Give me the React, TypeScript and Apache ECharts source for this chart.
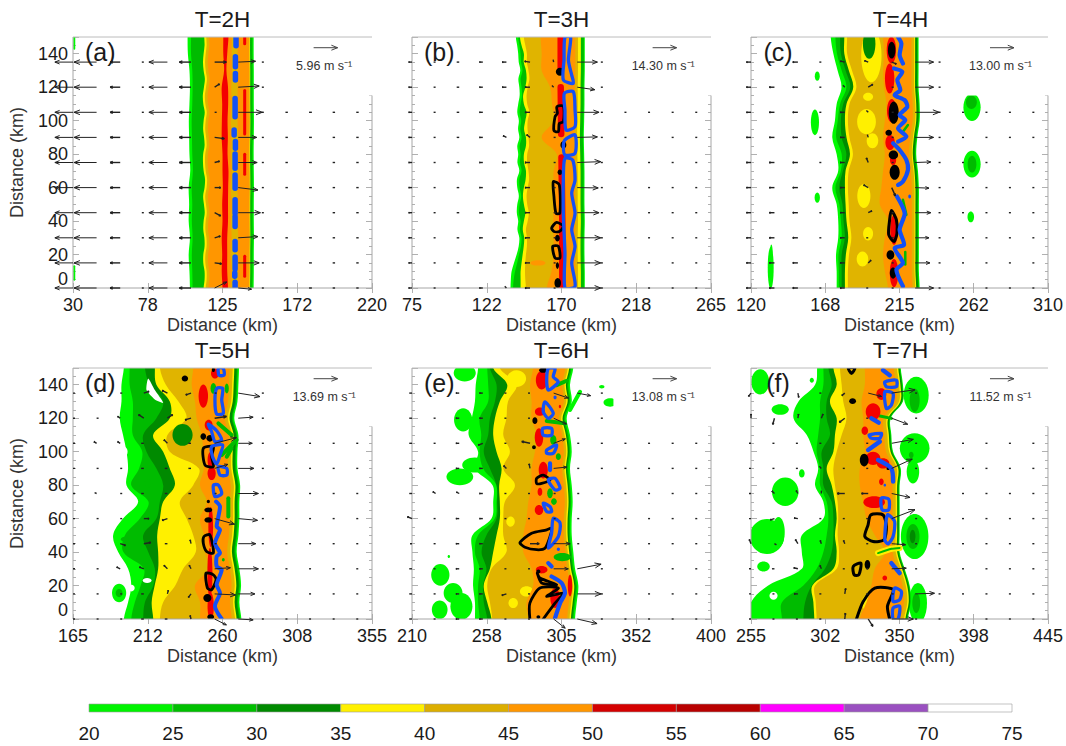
import React, { useEffect, useRef } from "react";
import * as echarts from "echarts";

// ---- palette ----
const G1 = "#00f800", G2 = "#00bb00", G3 = "#008a00", Y = "#fff000", GD = "#e0b400", O = "#ff9600", R = "#f40000", BL = "#1450f5", K = "#000000", W = "#ffffff";

// ---- colour bar ----
const barLevels = [20, 25, 30, 35, 40, 45, 50, 55, 60, 65, 70, 75];
const barColors = ["#00f400", "#00c000", "#008a00", "#fff000", "#dcae00", "#ff9600", "#d40000", "#b80000", "#ff00ff", "#9a50c0", "#ffffff"];

// ---- rows of the arrows (km); edge lists hold one value per 10 km, or per 5 km if they have 31 values ----
const arrowRows = [0, 15, 30, 45, 60, 75, 90, 105, 120, 135];

// ---- panel (a): edges, km from the panel's left end ----
const aL20 = [74.3, 74, 73.5, 74.3, 73.5, 73.8, 73.5, 74.5, 74, 73.8, 73.6, 74, 74.3, 74, 73, 72.8];
const aL25 = [76, 75.8, 75.5, 76, 75.5, 75.8, 75.4, 76.2, 75.8, 75.6, 75.4, 75.8, 76, 75.8, 75, 75];
const aL35 = [83, 83.6, 83.6, 82.8, 82.8, 83.6, 83.5, 82.8, 83, 83.7, 83.2, 82.7, 83.6, 83.9, 83, 82.6, 82.7, 83.6, 83.3, 82.7, 83, 83.7, 82.8, 82.5, 83.2, 83.8, 83, 82.6, 83, 83.6, 83.4];
const aL40 = [84.3, 84.9, 84.9, 84.1, 84.1, 84.9, 84.8, 84.1, 84.3, 85, 84.5, 84, 84.9, 85.2, 84.3, 83.9, 84, 84.9, 84.6, 84, 84.3, 85, 84.1, 83.8, 84.5, 85.1, 84.3, 83.9, 84.3, 84.9, 84.7];
const aL45 = [86, 86.6, 86.6, 85.8, 85.8, 86.6, 86.5, 85.8, 86, 86.7, 86.2, 85.7, 86.6, 86.9, 86, 85.6, 85.7, 86.6, 86.3, 85.7, 86, 86.7, 85.8, 85.5, 86.2, 86.8, 86, 85.6, 86, 86.6, 86.4];
const aGoldL = [100.4, 100.8, 100.2, 100.8, 100.4, 100.8, 100.3, 100.7, 100.4, 100.8, 100.3, 100.8, 100.6, 101, 100.8, 101];
const aGoldR = [104.6, 105, 104.6, 105, 104.6, 104.8, 104.6, 105, 104.6, 105, 104.6, 104.8, 104.6, 105, 104.6, 104.8];
const aRedL = [95, 94.5, 94.8, 94.5, 95, 94.8, 95.2, 95, 95, 94.5, 94.6, 94.8, 94.5, 96, 95.5, 95.5];
const aRedR = [98.5, 98, 98, 98, 98.5, 98.5, 98.6, 98.8, 98.2, 98.4, 98.2, 98.6, 98.5, 97.5, 98, 98.8];
const aR = [114.8, 114.9, 114.9, 115, 114.9, 114.9, 115, 114.9, 114.8, 114.9, 115, 114.9, 114.9, 114.9, 114.8, 114.8];
const aBlue = [[103, 0, 3.4], [102.8, 7, 8.9], [103, 11.3, 18.5], [103, 22.9, 27.8], [103, 36.8, 42.7], [103, 44.7, 52.7], [103, 59.6, 67.6], [103, 71.6, 80.1], [103.2, 83.5, 87.5], [102.4, 91.5, 94.4], [103, 102.4, 113.3], [103.2, 124.3, 128.2], [103.2, 132.2, 138.2], [103.6, 144.7, 150]];
const aRedStreak = [[109.1, 7, 19], [109.1, 68, 80], [109.1, 92, 118], [109.1, 146, 150]];
const aGreenBits = [[0.8, 143, 150], [0.8, 5, 13]];
const aBaseU = [-4.5, -5.6, -2.5, -0.3, -4.6, -2.9, 2.9, 4.3, 0.2, 0.6, 0.7, 0.6, 0.6];
const aArrows = [[6, 120, 1.2, 0.8], [7, 120, 5.2, 0.3], [6, 105, 0.5, 0], [7, 105, 5.96, 0], [6, 90, 2.4, -0.3], [7, 90, 4.6, 0], [6, 75, 1.2, 0.3], [7, 75, 4.7, 0], [6, 60, 1.5, 0], [7, 60, 4.9, -0.6], [6, 45, 1.5, -0.8], [7, 45, 5.5, 0], [6, 30, 1.4, 0.4], [7, 30, 4.9, 0.3], [6, 15, 1.7, -0.2], [7, 15, 5.2, 0], [6, 0, 3, 1.5], [7, 0, 3.3, -0.3], [7, 135, 4.3, 0.2]];

// ---- panel (b) ----
const bL20 = [62.6, 62.8, 63.3, 64.8, 66.5, 67.8, 68.2, 67, 67.5, 66.6, 66.9, 67.9, 66.9, 66.7, 68.2, 67, 67.5, 66.9, 68.2, 67.4, 67.9, 66.9, 67.5, 68.4, 68.2, 67.6, 68.8, 67.8, 67.5, 66.8, 66];
const bL25 = [64.2, 64.6, 65.5, 66.8, 68, 69.2, 69.6, 68.6, 69, 68, 68.4, 69.4, 68.4, 68.2, 69.6, 68.6, 69, 68.4, 69.6, 68.8, 69.4, 68.4, 69, 69.9, 69.6, 69, 70.2, 69.3, 69, 68.3, 67.5];
const bL35 = [69, 69, 69, 69.6, 70.3, 71, 71.3, 70.4, 71.1, 72, 71.1, 70.5, 71.1, 72.2, 72.4, 71.2, 71.1, 72.4, 72.4, 71.2, 72, 72.8, 71.1, 70.6, 72, 72.8, 72.4, 71, 71.1, 69.6, 68.6];
const bL40 = [72.4, 72, 71.8, 72, 72.4, 73, 73, 72.4, 73.5, 74.2, 73.2, 72.8, 73.5, 74.4, 74, 73.2, 73.2, 74.4, 74, 73.4, 73.5, 74.6, 73.2, 72.8, 73.5, 74.6, 74, 73, 73, 72, 71.1];
const bL45 = [85.6, 88.7, 90, 90, 89.8, 90, 90, 90, 92, 82.4, 90, 89, 87.7, 82.4, 82.4, 81.7];
const bR = [109.8, 109.8, 109.6, 109.6, 109.8, 109.6, 109.6, 109.6, 109.4, 109.2, 109.4, 109.6, 109.6, 109.8, 109.8, 109.8];
const bRed = [[[94.5, 150], [94.5, 131.5]], [[94.5, 120], [94.8, 92]], [[95, 78], [95.5, 40], [95.5, 0]]];
const bBlue = [
  [[97.2, 150], [96.6, 136.2], [96.2, 124.3], [102.5, 122.3], [101.5, 127.2], [99.4, 136.2], [100.8, 150]],
  [[96.8, 116.3], [102.5, 117.3], [103.6, 106.4], [103.6, 96.4], [97.9, 94.4], [97.2, 106.4]],
  [[97.2, 88.5], [103.6, 91.5], [103.6, 80.5], [97.2, 79.5], [96.2, 84.5]],
  [[97.2, 77.5], [102.1, 76.5], [103.6, 64.6], [101.5, 56.7], [103.6, 44.7], [101.5, 34.8], [103.6, 24.9], [101.5, 14.9], [103.6, 1], [97.2, 0], [97.2, 20.9], [96.2, 42.7], [96.2, 66.6]],
];
const bBlack = [
  [[92, 108.3], [96.2, 108.7], [96.2, 99.4], [93.6, 98.4], [93, 93.4], [90.2, 94], [90.9, 102.4], [92.4, 104.4]],
  [[89.8, 63.6], [93.6, 61.6], [94, 44.7], [91.5, 44.7], [90.2, 54.7]],
  [[88.7, 35.8], [91.9, 39.2], [96.2, 36.8], [93.6, 33.8], [90.2, 33.8]],
  [[89.4, 24.9], [93, 24.9], [94, 17.9], [90.9, 17.9]],
];
const bDots = [[94, 129.2, 2.6, 2.4], [96.2, 85.5, 1.9, 2.2], [94, 69.2, 1.5, 1.6], [92.6, 3, 2.1, 3], [92.4, 29.8, 1.5, 2], [92.4, 13.4, 1, 2]];
const bPatches = [[80, 15, 4.8, 1.6]];
const bBaseU = [-2, -1, -1.5, -2, -2.5, -3, 0.3, 12, 0.6, 0.6, 0.6, 0.6, 0.6];
const bArrows = [[7, 120, 10.5, -1.5], [7, 105, 13, 0], [7, 90, 12, 0.3], [7, 75, 14, 0.5], [7, 60, 12.5, -0.2], [7, 45, 13, 0], [7, 30, 14, 0], [7, 15, 14, 0], [7, 0, 14, 0], [6, 135, -0.3, 1.5], [5, 135, -3.2, 0.4], [5, 90, -2, 1.6], [6, 120, -1, 1], [4, 90, -2, 1], [4, 0, -1, 1]];

// ---- panel (c) ----
const cL20 = [54.8, 54.8, 54.4, 55.8, 55.8, 54.8, 52, 55.8, 54.8, 52, 53.7, 54.8, 57.9, 55.4, 52.7, 51];
const cL25 = [56.2, 56.2, 56, 58, 57.5, 56.5, 54, 57.5, 58, 54.5, 55.5, 57, 61, 58, 55, 54];
const cL30 = [58, 58, 58, 60, 59.2, 58.5, 56.5, 58.8, 61, 58, 57.5, 59, 63.5, 60.5, 57.5, 57];
const cL35 = [60.1, 60.1, 60.7, 62.2, 61.1, 60.5, 60.1, 60.5, 63.3, 61.1, 60.1, 61.1, 65.4, 62.6, 59.7, 59.7];
const cL40 = [62, 62, 62.7, 64.2, 63, 62.5, 62, 62.5, 65.2, 63, 62, 63, 67.4, 64.6, 61.5, 61.5];
const cL45 = [87.7, 85.6, 84.5, 85.6, 87.7, 82.4, 83.4, 84.5, 85.6, 84.5, 85.6, 86.6, 85.1, 84.5, 85.1, 84.5];
const cR = [107.9, 107.4, 107.4, 107.4, 107.4, 107.4, 107.4, 106.8, 105.7, 106.4, 107.9, 107.9, 107.2, 107.2, 107.2, 107.2];
const cYellow = [[77, 139, 6.5, 16], [74.9, 114.3, 3.2, 2.4], [73.9, 99.4, 6, 7.5], [77.7, 88, 3.7, 4.5], [72.2, 55, 4.2, 7.2], [74.9, 32.4, 3.2, 4], [71.3, 17.3, 3.7, 4.5]];
const cDark = [[75.6, 146, 4, 9]];
const cGreenOut = [[141.4, 108, 5.5, 8.2], [141.4, 74, 5.5, 8], [140.6, 42.5, 2.1, 3.2], [42.4, 126.6, 1.6, 2.8], [40.9, 99, 2.6, 7.7], [42.4, 54, 1.7, 3], [12.6, 12, 1.9, 12.5], [13, 22, 0.8, 4]];
const cGreenIn = [[141, 111, 3.5, 4], [141.4, 74, 2.8, 5]];
const cRed = [[89.8, 142.1, 3, 8], [88.7, 125.2, 3, 9], [90, 106, 3, 7], [89, 86.9, 3, 4.5], [90.9, 76.5, 2, 3], [91.5, 34.8, 2.4, 9], [91.5, 8.9, 2.7, 8.5]];
const cBlackDots = [[90, 142.1, 2.4, 5], [91.3, 104.8, 3.2, 6.7], [88.1, 92.8, 2.1, 1.8], [91.1, 79.5, 3, 2.6], [91.9, 69.2, 3.2, 4.5], [89.2, 19.7, 2.5, 2.8], [90.9, 8.9, 2.1, 3.3]];
const cBlack = [[[89.8, 46.3], [93, 40.8], [93.4, 32.8], [91.5, 27.8], [88.1, 31.8], [88.7, 40.8]]];
const cBlue = [
  [[94.1, 150], [96.2, 146.1], [95.1, 139.2], [97.2, 134.2]],
  [[91.5, 131.2], [96.8, 129.2], [93.6, 124.3], [95.5, 118.3], [91.9, 115.3], [98.3, 112.3], [100, 108.3], [95.1, 103.4], [98.7, 100.4], [94.1, 95.4], [99.4, 90.5], [94.1, 87.5]],
  [[90.9, 86.5], [95.1, 82.5], [99.4, 76.5], [100.4, 70.6], [97.2, 63.6], [94.1, 61.6]],
  [[93.4, 54.7], [98.3, 44.7], [95.1, 34.8], [97.9, 25.8], [91.9, 23.9], [97.2, 14.9], [93, 10.9], [97.2, 1]],
];
const cGreenLines = [[[97.2, 93.4], [100.4, 97.4]], [[97.2, 52.7], [99.4, 43.7]], [[98.7, 14], [98.7, 21.5]]];
const cBaseU = [-2.5, -2.8, -2.8, -1, -2.5, -1, 0.3, 10, 0.4, 0.5, 0.5, 0.5, 0.5];
const cArrows = [[7, 105, 13, 0], [7, 75, 8.5, 0.3], [7, 60, 7.5, -0.3], [7, 45, 8.5, 0], [7, 30, 7.5, 0], [7, 15, 8, 0], [5, 135, -2, 0.8], [5, 120, 2.5, 1.5], [5, 105, -1, 1], [5, 90, -0.5, 1.5], [5, 75, -1, 2.5], [5, 60, -2.5, 1.5], [5, 45, 2, 1], [5, 15, 1.5, 1.5], [4, 135, -2.4, 0.5], [6, 135, 2.5, -1], [6, 60, 2, -4.5], [4, 120, -1, 1]];

// ---- panel (d) ----
const dL20 = [32.3, 35, 37, 35, 28.7, 25.5, 31.8, 41.4, 34, 35, 34, 31.8, 29.7, 30.8, 30.8, 32.3];
const dL25 = [37, 39.3, 43, 45, 32, 33, 42.5, 48, 37, 42, 44, 38, 38, 38, 36, 36];
const dL30 = [44.6, 45.7, 51, 52, 47.8, 44.6, 53, 55.2, 57.3, 53, 46.7, 44.6, 53, 57.3, 48.8, 45.7];
const dL35 = [51, 50, 51.9, 54.1, 54.1, 53.5, 55.2, 57.3, 64.7, 61.5, 57.3, 50.9, 61.5, 61.5, 53, 52];
const dL40 = [55.2, 57.3, 65, 70, 78, 76.4, 72.2, 67.9, 76.4, 80, 61.5, 60, 72, 67, 59, 55.2];
const dL45 = [80.7, 80.7, 77.5, 86, 83.9, 83.2, 80.7, 85, 80.7, 83.2, 82.8, 81.7, 78.6, 77.5, 75.4, 76.4];
const dR = [107, 105.7, 106.8, 105.7, 104, 105.1, 105.7, 105.7, 106.2, 104.5, 104.5, 105.1, 102.5, 104.5, 105.1, 105.5];
const dGreenSpots = [[29.3, 15.5, 4.5, 5.5]];
const dHoles = [[32.5, 100, 2.2, 3], [47.1, 23, 2.8, 1.5], [37.2, 18.5, 2, 2]];
const dHolePoly = [[47.8, 143.7], [52, 136.8], [57.3, 129.2], [52, 131.2], [46.7, 136.8]];
const dMid = [[29.3, 15.5, 2.2, 2.5], [41.4, 81.5, 2, 2.2], [47.8, 81, 2.5, 2.2], [32.9, 47.7, 2.5, 1.5]];
const dDark = [[69.6, 110, 6.4, 6.5]];
const dRed = [[82.8, 133.2, 3, 7], [86.2, 115.9, 2.5, 3.2], [90.2, 146.7, 2.5, 3], [87.5, 7.6, 2, 8], [87, 27.4, 1.6, 15], [88.1, 87, 2.6, 4], [87.5, 95, 2, 5], [87.5, 55, 1.5, 12]];
const dGreenLines = [[[92.4, 116.9], [100.8, 109.9]], [[94.5, 98], [104, 107]], [[97.7, 97], [100.8, 102]], [[98.7, 72.2], [98.7, 61.2]]];
const dGreenDots = [[89.2, 137.8, 1.8, 3.2], [97.7, 137.8, 1.3, 3], [95.5, 35.4, 0.9, 1]];
const dBlackDots = [[71.1, 143.7, 2, 1.8], [89.2, 149, 1, 1.4], [82.8, 109, 1.8, 2], [87, 108, 2.2, 2], [86, 70.2, 1, 1], [86, 65.2, 2.5, 1.4], [86, 59.2, 2.5, 1.6], [85.4, 12.5, 2.6, 2.4], [87.5, 1.2, 2.2, 1.6]];
const dBlack = [
  [[82.8, 102], [89.2, 103], [88.1, 97], [89.2, 91], [83.9, 92]],
  [[83.2, 49.3], [87, 50.3], [89.2, 39.4], [84.9, 40.4], [82.8, 45.3]],
  [[84.5, 27.4], [89.2, 26.4], [90.9, 23.5], [88.1, 17.5], [85.4, 18.5]],
];
const dBlue = [
  [[92.4, 150], [95.5, 149.7], [96, 145.7], [92.8, 145.7]],
  [[91.3, 137.8], [95.1, 137.8], [94.5, 130.8], [95.5, 122.9], [91.3, 122.5], [90.2, 130.8]],
  [[86, 116.5], [91.3, 112.5], [94.5, 107], [90.2, 106], [88.1, 111.9]],
  [[88.1, 103], [95.1, 104], [93.4, 98], [91.3, 92.6], [88.7, 97]],
  [[92.4, 91], [97.7, 90], [97.7, 86], [93.4, 86]],
  [[89.2, 80], [92.4, 80], [94.5, 74.8], [90.2, 73.2]],
];
const dBlueLine = [[90.9, 70.2], [93.4, 67.2], [91.3, 55.3], [93.4, 53.3], [90.2, 45.3], [93.4, 39.4], [91.3, 37.4], [91.3, 31.4], [94.5, 29.4], [91.3, 20.5], [93.4, 15.5], [90.2, 7.6], [94.5, 0]];
const dBaseU = [0.5, 0.5, 0.8, -1.5, -1.5, -1.5, 0.5, 9, 0.3, 0.4, 0.4, 0.4, 0.4];
const dArrows = [[7, 135, 12.4, -2], [7, 120, 8.5, 0.6], [7, 105, 8, 0], [7, 90, 9, 0], [7, 75, 11.5, 0], [7, 60, 11, -1], [7, 45, 10, 0], [7, 30, 11.5, 0], [7, 15, 9.5, 0], [7, 0, 8.5, -0.5], [6, 105, 12.4, 3.2], [6, 90, 7.6, 2.3], [6, 60, 11.4, -3.2], [6, 30, 9, 0.6], [6, 15, 12, -0.6], [6, 0, 6.7, -3.4], [6, 120, 6.7, 1], [5, 135, -3, -1], [5, 120, -3.4, -1], [5, 15, -1.5, -2], [5, 0, -0.5, 2], [5, 45, -0.5, 2.2], [5, 30, -1, 2], [4, 135, -3, 1.5], [4, 120, 3, 2], [4, 105, -2, 2], [4, 60, -3, -1], [4, 30, -2, 2], [4, 15, 0.5, 2], [3, 135, 3, 1], [3, 120, -3, 2], [3, 30, -2.5, 1], [3, 45, 4, 0.7], [3, 60, 3, 0], [2, 120, -1.5, 1], [2, 105, -1.5, 1], [2, 30, -2, 1], [2, 45, 3, -1], [1, 105, -1.5, 1], [1, 75, -1, 0.5]];

// ---- panel (e) ----
const eL20 = [40, 40, 38.8, 39.3, 38.4, 38.4, 50.5, 51.6, 51.2, 40, 42, 36, 38, 40, 40.5, 42];
const eL25 = [43, 42, 42, 43, 40, 42, 52.6, 53.7, 53.7, 45.2, 43, 44, 43, 48.4, 48.4, 47.8];
const eL30 = [47.8, 45.6, 45.2, 47.3, 44.2, 47.3, 53.7, 54.1, 53.7, 49.5, 45.6, 48.4, 49.5, 52.7, 53.7, 49.5];
const eL35 = [50.5, 47.8, 45.6, 49.5, 51.6, 53.7, 55.8, 55.8, 55.4, 56.9, 53.7, 51.6, 52.7, 55.8, 60.5, 51.6];
const eL40 = [51, 49.5, 47.8, 50.5, 60, 58, 58, 59, 65.4, 58, 62.2, 58, 60, 61, 66.5, 55.8];
const eL45 = [73.9, 72.8, 77, 76, 70.7, 70.7, 72.8, 73.9, 76, 76, 78.1, 79.2, 76, 76, 75, 77];
const eR = [103.6, 104.7, 105.7, 103.6, 102.5, 101.5, 101.5, 102.1, 101.5, 100.4, 101.5, 100.4, 98.3, 101.5, 100.4, 102.5];
const eGreenOut = [[30.4, 85, 8.5, 5], [39.9, 92, 8, 4.5], [32.5, 119, 5.8, 7], [33.5, 147, 7, 5], [18, 26.4, 5.8, 6.5], [26.1, 15.5, 6, 6], [31.4, 7.6, 7, 8], [17.6, 5.6, 5, 5.5], [23.4, 37.4, 0.8, 0.9], [125.9, 129.4, 4.2, 2.5], [120.6, 138.8, 1.7, 1]];
const eYellow = [[62.6, 58.2, 2.7, 3], [72.8, 16.5, 4.2, 3], [66.5, 143.7, 6, 5], [64.3, 9.5, 3, 3]];
const eRed = [[82.4, 142.7, 3.7, 5.5], [81.3, 123.9, 3.2, 2.5], [80.7, 108.5, 2.7, 5.5], [83.4, 89, 2.9, 5], [81.3, 76, 1.5, 2.5], [80.7, 65.2, 2.7, 3], [82.4, 29.4, 3.7, 2.2], [100.4, 20, 1.4, 6.5], [90.9, 12.5, 3, 6], [94, 127, 0.7, 1]];
const eGreenIn = [[89.8, 107, 2, 3], [93, 97, 1.6, 2], [87.7, 75.2, 1.8, 3], [90.2, 70.2, 1.8, 2], [95.5, 37, 5.5, 2.5]];
const eGreenLines = [[[85.6, 118.3], [97.2, 116.9]], [[91.9, 139.8], [98.3, 142.4]]];
const eSideLine = [[100.4, 124.9], [106.8, 135.8]];
const eBlackDots = [[83.4, 148.7, 2.6, 1.6], [78.1, 118.5, 1.6, 2], [77.5, 102.6, 1.2, 1.2], [80.3, 28.4, 1.3, 1.2], [80.3, 1.2, 1.2, 1]];
const eBlack = [
  [[79.2, 84], [83.4, 86], [87.7, 83], [82.4, 81], [79.2, 81]],
  [[68.6, 45.7], [76, 51.3], [85.6, 53.3], [88.7, 54.3], [87.7, 49.3], [84.5, 42.3], [79.2, 41.4], [71.8, 42.9]],
  [[79.6, 27.4], [81.3, 24.5], [91.9, 20.5], [82.4, 21.5]],
];
const eBlackOpen = [[74.9, 0], [74.9, 9.5], [81.3, 18.5], [93, 18.5], [85.6, 13.5], [96.2, 15.5], [90.9, 9.5], [83.4, 0]];
const eBlue = [
  [[86.6, 149.7], [90.9, 149.7], [89.8, 144.7], [93, 141.7], [86.6, 136.8], [85.6, 142.7]],
  [[84.5, 129.8], [89.8, 122.9], [86.6, 119.9], [83.4, 123.9]],
  [[83, 113.9], [88.7, 113.9], [88.7, 109.9], [83.4, 109.9]],
  [[85.6, 101], [91.9, 104], [89.8, 99], [85.6, 99]],
  [[86.6, 83.1], [90.9, 84.1], [94.1, 78.1], [90.9, 77.1]],
  [[83.4, 69.2], [87.7, 67.2], [88.7, 64.2], [85.6, 64.2]],
  [[89.8, 60.2], [94.1, 57.3], [93, 49.3], [86.6, 42.3], [88.7, 51.3]],
];
const eBlueLines = [[[87.7, 93], [87.7, 89]], [[86.6, 33.4], [88.7, 31.4]], [[88.7, 25.4], [95.1, 21.5], [97.2, 15.5], [94.1, 9.5], [90.9, 0.6]]];
const eBlueDots = [[90.9, 132.4, 1, 1.1], [93, 41.7, 1, 1]];
const eBaseU = [-1.5, -0.4, -1.8, -1.8, -0.6, -1, 0.3, 0.4, 0.4, 0.4, 0.4, 0.4, 0.4];
const eArrows = [[7, 135, 7.3, -1.4], [6, 120, 7, -3.2], [6, 105, 6.4, 2.4], [6, 90, 7.2, 0.7], [7, 30, 13, 2.5], [7, 15, 13, 0], [7, 0, 10.8, -2.5], [6, 135, 8.1, -2.7], [6, 45, 9, 0], [6, 30, 8, 0], [6, 0, 6.3, -5], [5, 105, -4.5, 1], [5, 90, -0.5, 2.5], [5, 45, 5, 0], [0, 60, -2.5, 1], [0, 45, -1, 0], [1, 75, -1.5, 1], [2, 75, -1.5, 0.8], [4, 90, -1.5, 1.5], [5, 15, -1, 0], [4, 15, -2.5, -0.8], [3, 105, -2.5, -1]];

// ---- panel (f) ----
const fL20 = [0, 0, 11, 32.5, 32.5, 32.5, 46.3, 46.3, 41, 43, 40, 35.7, 27.2, 30.4, 41, 42.3];
const fL25 = [19.8, 19.8, 33.5, 42, 46.3, 48.4, 49.5, 48.4, 44.2, 44.2, 42, 43, 44.2, 44.2, 46.3, 46.3];
const fL30 = [33.5, 34.6, 38.9, 47.3, 51.6, 52.7, 52.7, 51.6, 46.3, 46.3, 45.2, 50.5, 48.4, 48.4, 51.6, 49.5];
const fL35 = [40.5, 39.9, 39.3, 52.7, 54.8, 53.7, 54.8, 53.7, 51.6, 48.4, 52.7, 53.7, 54.8, 50.5, 54.8, 52.7];
const fL40 = [42, 41.4, 41, 54.8, 56.3, 55.4, 55.8, 55.4, 53.7, 52.7, 54.8, 58, 61.1, 59, 58, 56.9];
const fL45 = [69.6, 73.9, 77, 79.2, 85.6, 79.2, 73.9, 71.8, 69.6, 69.6, 72.8, 71.8, 71.8, 70.7, 72.8, 72.8];
const fR = [100.4, 102.5, 101.5, 98.3, 95.1, 95.1, 95.1, 95.1, 95.1, 95.8, 90.9, 89.8, 89.4, 97.2, 97.2, 95.8];
const fGreenOut = [[105.7, 133.8, 8, 11], [104.7, 102, 9.5, 9], [103.6, 88, 4, 7], [104.7, 49.3, 8.8, 13.5], [106.8, 9.5, 5.8, 12], [18.7, 125.2, 5.5, 3.2], [5.9, 141.7, 5.7, 7.5], [38.9, 142.7, 1.3, 1.5], [21.9, 76, 8.5, 8.5], [10.2, 49.3, 11, 10.5], [17.6, 52, 4, 9], [8, 31.4, 4, 3], [32.5, 87, 1.8, 2.5]];
const fMid = [[104.7, 130.8, 3.2, 7], [103.6, 49.3, 4.2, 7.5], [102.5, 98, 1.5, 2], [105.7, 9.5, 2.5, 6]];
const fDarkOut = [[103.4, 49.3, 1.8, 4]];
const fHoles = [[14.4, 13.9, 2.6, 2.4]];
const fYellow = [[78.8, 9.5, 8, 6.5]];
const fRed = [[78.1, 123.9, 4.7, 5], [83.4, 134.4, 3.2, 3.5], [72.8, 112.5, 2.1, 2.5], [78.1, 96, 4.7, 4], [84.5, 93, 4, 3], [78.8, 69.8, 6.9, 3.5], [85.6, 24.5, 1.5, 1.5], [83.4, 82, 1.5, 2]];
const fWedge = [[81.3, 39.4], [90, 42], [95.1, 42.5]];
const fNotch = [[82.4, 121.3], [89.8, 119.9]];
const fBlackDots = [[65, 130.2, 2.2, 1.7], [72.4, 95, 2.8, 3.8], [87.7, 90, 1, 1], [74.5, 32.4, 1.8, 2.8]];
const fBlack = [
  [[76.6, 62.2], [84.5, 62.2], [86.6, 55.3], [85.1, 47.3], [78.1, 46.3], [72.8, 49.3], [74.9, 56.3]],
  [[62.2, 150], [66.5, 150], [64.3, 146.7]],
  [[65.4, 31.4], [70.3, 33.4], [69, 26.4], [66, 26.4]],
];
const fBlackOpen = [[67.5, 0], [71.8, 10.5], [79.2, 18.5], [90.9, 17.5], [87.3, 7.6], [88.7, 0]];
const fBlue = [
  [[85.6, 141.7], [93, 142.7], [93, 138.8], [86.6, 138.8]],
  [[85.6, 135.8], [90.9, 134.8], [89.8, 127.8], [86.6, 125.8]],
  [[75.6, 109.9], [83.4, 110.9], [82.4, 108], [77.1, 108]],
  [[83.4, 72.2], [88.1, 71.6], [88.1, 65.2], [83.9, 65.2]],
  [[87.3, 62.2], [91.9, 58.3], [90.9, 49.3], [87.7, 44.9], [85.6, 47.3]],
  [[91.9, 18.5], [96.2, 16.5], [95.1, 11.5], [90.9, 10.5]],
  [[90.9, 6.6], [95.1, 7.6], [94.1, 0], [90.9, 0]],
];
const fBlueLines = [[[84.5, 148.7], [88.7, 145.7]], [[77.1, 119.9], [81.7, 117.3]], [[74.9, 101], [82.4, 106]], [[81.3, 95], [89.8, 90], [90.9, 82.1]], [[89.8, 33.4], [95.1, 27.4]]];
const fBlueDots = [[85.6, 80, 0.8, 0.8]];
const fBaseU = [-0.4, -0.3, -0.3, -0.5, -0.5, -0.5, 0.3, 0.3, 0.3, 0.3, 0.3, 0.3, 0.3];
const fArrows = [[6, 135, 11.2, 1.6], [6, 120, 7.7, -2.9], [6, 105, 10.4, 1.9], [6, 90, 9.9, 4.5], [6, 75, 8.8, -1.9], [6, 60, 11.2, 4.3], [6, 45, 6.7, -0.5], [6, 30, 7, 0.3], [7, 15, 9.3, 0.3], [6, 0, 10.4, 0], [5, 135, 6.4, -1.6], [5, 0, 2.2, -3.5], [0, 135, -1.2, -1.6], [0, 120, 0, 2], [1, 120, -0.8, -3], [2, 135, 0.4, -2], [3, 120, 0.8, 2], [4, 135, -1.4, -1.2], [4, 120, -2.6, -2], [2, 120, 0.3, 2], [3, 75, 0, 1.4], [2, 75, -0.8, 1.4], [1, 75, -1.2, 1.2], [4, 75, -3.6, 0], [5, 75, -3.2, 0], [3, 90, -1, 1], [0, 45, -0.8, 2], [1, 45, 0.3, -0.6], [2, 45, -1.2, 2], [3, 45, -0.5, 1.5], [4, 45, -0.6, 1.5], [1, 60, -2, -0.6], [2, 60, -1.8, 0.3], [3, 30, -0.6, 1.6], [2, 30, -2, 0.5], [1, 30, -1.2, 0], [2, 15, -1.8, 0], [4, 15, 0.4, 2.6], [3, 0, -1, 0], [4, 0, 0.3, 2.8]];

// ---- axes ----
const aTicks = [30, 77.5, 125, 172.5, 220], aLabels = ["30", "78", "125", "172", "220"];
const bTicks = [75, 122.5, 170, 217.5, 265], bLabels = ["75", "122", "170", "218", "265"];
const cTicks = [120, 167.5, 215, 262.5, 310], cLabels = ["120", "168", "215", "262", "310"];
const dTicks = [165, 212.5, 260, 307.5, 355], dLabels = ["165", "212", "260", "308", "355"];
const eTicks = [210, 257.5, 305, 352.5, 400], eLabels = ["210", "258", "305", "352", "400"];
const fTicks = [255, 302.5, 350, 397.5, 445], fLabels = ["255", "302", "350", "398", "445"];

// ---- shape helpers: they only wrap the read-off values ----
type Shape = any;
const band = (color: string, left: number[], right: number[], inset = 0): Shape => ({ k: "band", color, left, right, inset });
const blobs = (color: string, list: number[][]): Shape[] => list.map(([x, y, rx, ry]) => ({ k: "blob", color, x, y, rx, ry }));
const lines = (color: string, w: number, list: number[][][], closed = false): Shape[] => list.map((pts) => ({ k: "line", color, w, pts, closed }));
const sticks = (color: string, w: number, list: number[][]): Shape[] => list.map(([x, y0, y1]) => ({ k: "line", color, w, pts: [[x, y0], [x, y1]], closed: false }));

const aShapes: Shape[] = [band(G1, aL20, aR), band(G2, aL25, aR, 0.8), band(Y, aL35, aR, 2.3), band(GD, aL40, aR, 2.6), band(O, aL45, aR, 3), band(GD, aGoldL, aGoldR), band(R, aRedL, aRedR), ...sticks(R, 3, aRedStreak), ...sticks(G1, 2, aGreenBits), ...sticks(BL, 5.5, aBlue)];
const bShapes: Shape[] = [band(G1, bL20, bR), band(G2, bL25, bR, 0.6), band(Y, bL35, bR, 2.5), band(GD, bL40, bR, 4.3), band(O, bL45, bR, 6), ...blobs(O, bPatches), ...lines(R, 6.5, bRed), ...lines(K, 2.8, bBlack, true), ...blobs(K, bDots), ...lines(BL, 3.3, bBlue, true)];
const cShapes: Shape[] = [...blobs(G1, cGreenOut), ...blobs(G2, cGreenIn), band(G1, cL20, cR), band(G2, cL25, cR, 0.5), band(G3, cL30, cR, 1), band(Y, cL35, cR, 2.2), band(GD, cL40, cR, 2.8), ...blobs(Y, cYellow), ...blobs(G3, cDark), band(O, cL45, cR, 4.5), ...blobs(R, cRed), ...lines(G2, 2.5, cGreenLines), ...blobs(K, cBlackDots), ...lines(K, 3, cBlack, true), ...lines(BL, 4.2, cBlue), ...blobs(BL, [[101.5, 54.7, 0.9, 1.2]])];
const dShapes: Shape[] = [...blobs(G1, dGreenSpots), band(G1, dL20, dR), band(G2, dL25, dR, 0.8), band(G3, dL30, dR, 1.5), ...blobs(G2, dMid), band(Y, dL35, dR, 3), band(GD, dL40, dR, 4), band(O, dL45, dR, 6), ...blobs(W, dHoles), { k: "poly", color: W, pts: dHolePoly }, ...blobs(G3, dDark), ...blobs(R, dRed), ...lines(G2, 4, dGreenLines), ...blobs(G2, dGreenDots), ...lines(K, 2.8, dBlack, true), ...blobs(K, dBlackDots), ...lines(BL, 3.3, dBlue, true), ...lines(BL, 4, [dBlueLine])];
const eShapes: Shape[] = [...blobs(G1, eGreenOut), ...lines(G1, 4, [eSideLine]), band(G1, eL20, eR), band(G2, eL25, eR, 1), band(G3, eL30, eR, 1.8), band(Y, eL35, eR, 2.6), band(GD, eL40, eR, 3.5), ...blobs(Y, eYellow), band(O, eL45, eR, 5), ...blobs(R, eRed), ...blobs(G2, eGreenIn), ...lines(G2, 4, eGreenLines), ...lines(K, 2.8, eBlack, true), ...lines(K, 2.8, [eBlackOpen]), ...blobs(K, eBlackDots), ...lines(BL, 3.3, eBlue, true), ...lines(BL, 4.2, eBlueLines), ...blobs(BL, eBlueDots)];
const fShapes: Shape[] = [...blobs(G1, fGreenOut), ...blobs(G2, fMid), ...blobs(G3, fDarkOut), band(G1, fL20, fR), band(G2, fL25, fR, 0.4), band(G3, fL30, fR, 0.8), ...blobs(W, fHoles), band(Y, fL35, fR, 1.6), band(GD, fL40, fR, 2.5), ...blobs(Y, fYellow), band(O, fL45, fR, 4.5), ...lines(Y, 6, [fWedge]), ...lines(G2, 2, [fWedge]), ...lines(G2, 3, [fNotch]), ...blobs(R, fRed), ...lines(K, 3, fBlack, true), ...lines(K, 3, [fBlackOpen]), ...blobs(K, fBlackDots), ...lines(BL, 3.3, fBlue, true), ...lines(BL, 4.4, fBlueLines), ...blobs(BL, fBlueDots)];

const panels = [
  { title: "T=2H", letter: "(a)", xmin: 30, ticks: aTicks, labels: aLabels, speed: 5.96, speedText: "5.96 m s⁻¹", shapes: aShapes, baseU: aBaseU, extra: aArrows, left: 73, top: 37, yLabels: true },
  { title: "T=3H", letter: "(b)", xmin: 75, ticks: bTicks, labels: bLabels, speed: 14.3, speedText: "14.30 m s⁻¹", shapes: bShapes, baseU: bBaseU, extra: bArrows, left: 412, top: 37, yLabels: false },
  { title: "T=4H", letter: "(c)", xmin: 120, ticks: cTicks, labels: cLabels, speed: 13, speedText: "13.00 m s⁻¹", shapes: cShapes, baseU: cBaseU, extra: cArrows, left: 751, top: 37, yLabels: false },
  { title: "T=5H", letter: "(d)", xmin: 165, ticks: dTicks, labels: dLabels, speed: 13.69, speedText: "13.69 m s⁻¹", shapes: dShapes, baseU: dBaseU, extra: dArrows, left: 73, top: 368, yLabels: true },
  { title: "T=6H", letter: "(e)", xmin: 210, ticks: eTicks, labels: eLabels, speed: 13.08, speedText: "13.08 m s⁻¹", shapes: eShapes, baseU: eBaseU, extra: eArrows, left: 412, top: 368, yLabels: false },
  { title: "T=7H", letter: "(f)", xmin: 255, ticks: fTicks, labels: fLabels, speed: 11.52, speedText: "11.52 m s⁻¹", shapes: fShapes, baseU: fBaseU, extra: fArrows, left: 751, top: 368, yLabels: false },
];

const FONT = "'Liberation Sans', Arial, sans-serif";
const SPAN = 190;
const W_PX = 299, H_PX = 251;
const REF_PX = 24;

function arrowGroup(p0: number[], dx: number, dy: number, stroke: string, lw = 1) {
  const len = Math.hypot(dx, dy);
  const tip = [p0[0] + dx, p0[1] + dy];
  const children: any[] = [{ type: "line", shape: { x1: p0[0], y1: p0[1], x2: tip[0], y2: tip[1] }, style: { stroke, lineWidth: lw, fill: "none" } }];
  if (len > 3) {
    const wing = Math.min(7, len * 0.28);
    const a = Math.atan2(dy, dx);
    for (const s of [-1, 1]) {
      const t = a + Math.PI + s * 0.38;
      children.push({ type: "line", shape: { x1: tip[0], y1: tip[1], x2: tip[0] + wing * Math.cos(t), y2: tip[1] + wing * Math.sin(t) }, style: { stroke, lineWidth: lw, fill: "none" } });
    }
  }
  return { type: "group", children };
}

// an edge list holds 16 values (every 10 km) or 31 values (every 5 km) from y = 0 to y = 150
const edgePoints = (list: number[], inset: number) => {
  const step = 150 / (list.length - 1);
  return [[list[0] - inset, -12], ...list.map((x, n) => [x - inset, n * step]), [list[list.length - 1] - inset, 162]];
};

function buildOption() {
  const grid: any[] = [], xAxis: any[] = [], yAxis: any[] = [], series: any[] = [], title: any[] = [];
  const tickStyle = { color: "#b0b0b0", width: 1 };

  panels.forEach((p, i) => {
    const xmax = p.xmin + SPAN;
    grid.push({ left: p.left, top: p.top, width: W_PX, height: H_PX });
    title.push({ text: p.title, left: p.left + W_PX / 2, top: p.top - 29, textAlign: "center", padding: 0, textStyle: { fontFamily: FONT, fontSize: 22.5, fontWeight: "normal", color: "#1a1a1a" } });
    const xBase = i * 2, yBase = i * 2;
    xAxis.push({
      type: "value", gridIndex: i, position: "bottom", min: p.xmin, max: xmax, splitLine: { show: false }, axisLine: { show: false },
      axisTick: { show: true, inside: true, length: 5, lineStyle: tickStyle, customValues: p.ticks },
      axisLabel: { show: true, customValues: p.ticks, margin: 8, fontFamily: FONT, fontSize: 18, color: "#1a1a1a", hideOverlap: false, formatter: (v: number) => p.labels[p.ticks.indexOf(v)] ?? "" },
      name: "Distance (km)", nameLocation: "middle", nameGap: 28, nameTextStyle: { fontFamily: FONT, fontSize: 18, color: "#333", verticalAlign: "top" },
    });
    xAxis.push({
      type: "value", gridIndex: i, position: "top", min: p.xmin, max: xmax, splitLine: { show: false }, axisLine: { show: false },
      axisTick: { show: true, inside: true, length: 5, lineStyle: tickStyle, customValues: p.ticks }, axisLabel: { show: false },
    });
    yAxis.push({
      type: "value", gridIndex: i, position: "left", min: 0, max: 150, interval: 20, splitLine: { show: false }, axisLine: { show: false },
      axisTick: { show: true, inside: true, length: 6, lineStyle: tickStyle }, minorTick: { show: true, splitNumber: 4, length: 3, lineStyle: tickStyle },
      axisLabel: { show: p.yLabels, margin: 5, fontFamily: FONT, fontSize: 18, color: "#1a1a1a", verticalAlignMinLabel: "bottom" },
      ...(p.yLabels ? { name: "Distance (km)", nameLocation: "middle", nameGap: 47, nameRotate: 90, nameTextStyle: { fontFamily: FONT, fontSize: 18, color: "#333" } } : {}),
    });
    yAxis.push({
      type: "value", gridIndex: i, position: "right", min: 0, max: 150, interval: 20, splitLine: { show: false }, axisLine: { show: false },
      axisTick: { show: true, inside: true, length: 6, lineStyle: tickStyle }, minorTick: { show: true, splitNumber: 4, length: 3, lineStyle: tickStyle }, axisLabel: { show: false },
    });

    // filled contours and contour lines
    series.push({
      type: "custom", xAxisIndex: xBase, yAxisIndex: yBase, clip: true, silent: true, z: 2,
      data: p.shapes.map((_, n) => [p.xmin, 0, n]), encode: { x: 0, y: 1 },
      renderItem: (_: any, api: any) => {
        const s = p.shapes[api.value(2)];
        const co = (x: number, y: number) => api.coord([p.xmin + x, y]);
        if (s.k === "band") {
          const l = edgePoints(s.left, 0);
          const r = edgePoints(s.right, s.inset);
          return { type: "polygon", shape: { points: [...l, ...r.reverse()].map(([x, y]) => co(x, y)), smooth: 0.35 }, style: { fill: s.color } };
        }
        if (s.k === "blob") {
          const c = co(s.x, s.y);
          const sz = api.size([s.rx, s.ry]);
          return { type: "ellipse", shape: { cx: c[0], cy: c[1], rx: sz[0], ry: sz[1] }, style: { fill: s.color } };
        }
        if (s.k === "poly") return { type: "polygon", shape: { points: s.pts.map(([x, y]: number[]) => co(x, y)), smooth: 0.2 }, style: { fill: s.color } };
        const pts = s.pts.map(([x, y]: number[]) => co(x, y));
        if (s.closed) return { type: "polygon", shape: { points: pts, smooth: 0.25 }, style: { fill: "none", stroke: s.color, lineWidth: s.w, lineJoin: "round" } };
        return { type: "polyline", shape: { points: pts, smooth: pts.length > 2 ? 0.25 : 0 }, style: { fill: "none", stroke: s.color, lineWidth: s.w, lineCap: "round", lineJoin: "round" } };
      },
    });

    // the white key box over the top right corner, then the frame
    series.push({
      type: "custom", xAxisIndex: xBase, yAxisIndex: yBase, silent: true, z: 3, clip: false,
      data: [[p.xmin + 128, 115]], encode: { x: 0, y: 1 },
      renderItem: (_: any, api: any) => {
        const a = api.coord([api.value(0), 150]), b = api.coord([xmax, api.value(1)]);
        const c = api.coord([p.xmin, 0]), d = api.coord([xmax, 150]);
        const st = { stroke: "#a6a6a6", lineWidth: 1, fill: "none" };
        return {
          type: "group", children: [
            { type: "rect", shape: { x: a[0], y: a[1], width: b[0] - a[0] + 2, height: b[1] - a[1] }, style: { fill: "#fff" } },
            { type: "line", shape: { x1: c[0], y1: c[1], x2: c[0], y2: d[1] }, style: st },
            { type: "line", shape: { x1: c[0], y1: d[1], x2: d[0], y2: d[1] }, style: { ...st, stroke: "#bcbcbc" } },
            { type: "line", shape: { x1: c[0], y1: c[1], x2: d[0], y2: c[1] }, style: st },
            { type: "line", shape: { x1: d[0], y1: c[1], x2: d[0], y2: b[1] }, style: st },
          ],
        };
      },
    });

    // wind vectors: [x, y, u, v]
    const vec: number[][] = [];
    arrowRows.forEach((y) => {
      p.baseU.forEach((u, k) => {
        if (k >= 9 && y >= 120) return;
        const ov = p.extra.find((e) => e[0] === k && e[1] === y);
        vec.push([p.xmin + k * 15, y, ov ? ov[2] : u, ov ? ov[3] : 0]);
      });
    });
    series.push({
      type: "custom", xAxisIndex: xBase, yAxisIndex: yBase, silent: true, z: 4, clip: false,
      data: vec, encode: { x: 0, y: 1 },
      renderItem: (_: any, api: any) => {
        const p0 = api.coord([api.value(0), api.value(1)]);
        const f = REF_PX / p.speed;
        let dx = api.value(2) * f;
        const dy = -api.value(3) * f;
        if (Math.hypot(dx, dy) < 2) dx = dx < 0 ? -2 : 2;
        return arrowGroup(p0, dx, dy, "#222", Math.hypot(dx, dy) < 12 ? 1.4 : 1);
      },
    });

    // reference vector, its label and the panel letter
    series.push({
      type: "custom", xAxisIndex: xBase, yAxisIndex: yBase, silent: true, z: 5, clip: false,
      data: [[p.xmin + 152.9, 143.6]], encode: { x: 0, y: 1 },
      renderItem: (_: any, api: any) => {
        const p0 = api.coord([api.value(0), api.value(1)]);
        const t = api.coord([p.xmin + 159.6, 132.8]);
        const l = api.coord([p.xmin + 17.3, 140.8]);
        return {
          type: "group", children: [
            arrowGroup(p0, REF_PX, 0, "#444", 1),
            { type: "text", x: t[0], y: t[1], style: { text: p.speedText, fontFamily: FONT, fontSize: 12.5, fill: "#333", align: "center", verticalAlign: "middle" } },
            { type: "text", x: l[0], y: l[1], style: { text: p.letter, fontFamily: FONT, fontSize: 25, fill: "#1a1a1a", align: "center", verticalAlign: "middle" } },
          ],
        };
      },
    });
  });

  // colour bar
  const bi = panels.length;
  grid.push({ left: 89, top: 704, width: 923, height: 8 });
  xAxis.push({
    type: "value", gridIndex: bi, min: 20, max: 75, interval: 5, splitLine: { show: false }, axisLine: { show: false }, axisTick: { show: false },
    axisLabel: { margin: 12, fontFamily: FONT, fontSize: 19, color: "#1a1a1a" },
  });
  yAxis.push({ type: "value", gridIndex: bi, min: 0, max: 1, show: false });
  series.push({
    type: "custom", xAxisIndex: bi * 2, yAxisIndex: bi * 2, silent: true, z: 2,
    data: barColors.map((_, n) => [barLevels[n], barLevels[n + 1], n]), encode: { x: [0, 1] },
    renderItem: (_: any, api: any) => {
      const a = api.coord([api.value(0), 1]), b = api.coord([api.value(1), 0]);
      return { type: "rect", shape: { x: a[0], y: a[1], width: b[0] - a[0], height: b[1] - a[1] }, style: { fill: barColors[api.value(2)], stroke: "#9a9a9a", lineWidth: 0.6 } };
    },
  });

  return { animation: false, backgroundColor: "#fff", title, grid, xAxis, yAxis, series, tooltip: { show: false } };
}

export default function App() {
  const ref = useRef<HTMLDivElement>(null);
  useEffect(() => {
    const chart = echarts.init(ref.current!, undefined, { renderer: "svg" });
    chart.setOption(buildOption() as any);
    return () => chart.dispose();
  }, []);
  return (
    <div style={{ position: "fixed", left: 0, top: 0, width: 1066, height: 746, overflow: "hidden" }}>
      <div ref={ref} style={{ width: 1066, height: 746 }} />
    </div>
  );
}
